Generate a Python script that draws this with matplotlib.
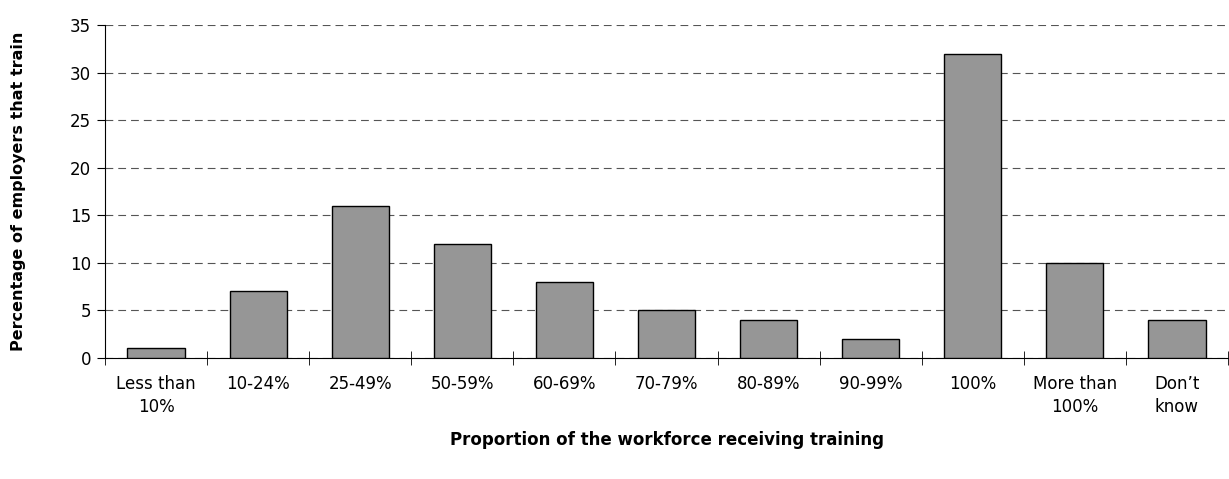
import numpy as np
import matplotlib.pyplot as plt

# Proportion of the workforce receiving training
categories = ['Less than\n10%', '10-24%', '25-49%', '50-59%', '60-69%', '70-79%',
              '80-89%', '90-99%', '100%', 'More than\n100%', "Don\u2019t\nknow"]
values = [1, 7, 16, 12, 8, 5, 4, 2, 32, 10, 4]
y_ticks = [0, 5, 10, 15, 20, 25, 30, 35]

plt.rcParams['font.family'] = ['DejaVu Sans']

fig = plt.figure(figsize=(12.29, 4.79), dpi=100)
ax = fig.add_axes([105 / 1229, 1 - 358 / 479, 1123 / 1229, 333 / 479])

x = np.arange(len(categories))
ax.bar(x, values, width=0.56, color='#969696', edgecolor='black', linewidth=1.0, zorder=3)

ax.set_xlim(-0.5, len(categories) - 0.5)
ax.set_ylim(0, 35)
ax.set_yticks(y_ticks)
ax.yaxis.grid(True, linestyle=(0, (7, 4.5)), color='#555555', linewidth=0.8, zorder=0)
ax.tick_params(axis='y', direction='out', length=6, labelsize=12, pad=4)

# category labels in the middle, ticks on the boundaries
ax.set_xticks(x)
ax.set_xticklabels(categories, fontsize=12, linespacing=1.35)
ax.tick_params(axis='x', which='major', length=0, pad=12)
ax.set_xticks(np.arange(len(categories) + 1) - 0.5, minor=True)
ax.tick_params(axis='x', which='minor', direction='inout', length=10)

for s in ['top', 'right']:
    ax.spines[s].set_visible(False)

ax.set_xlabel('Proportion of the workforce receiving training', fontsize=12,
              fontweight='bold', labelpad=11)
ax.set_ylabel('Percentage of employers that train', fontsize=11.5,
              fontweight='bold', labelpad=32)

fig.savefig('out.png', dpi=100)
